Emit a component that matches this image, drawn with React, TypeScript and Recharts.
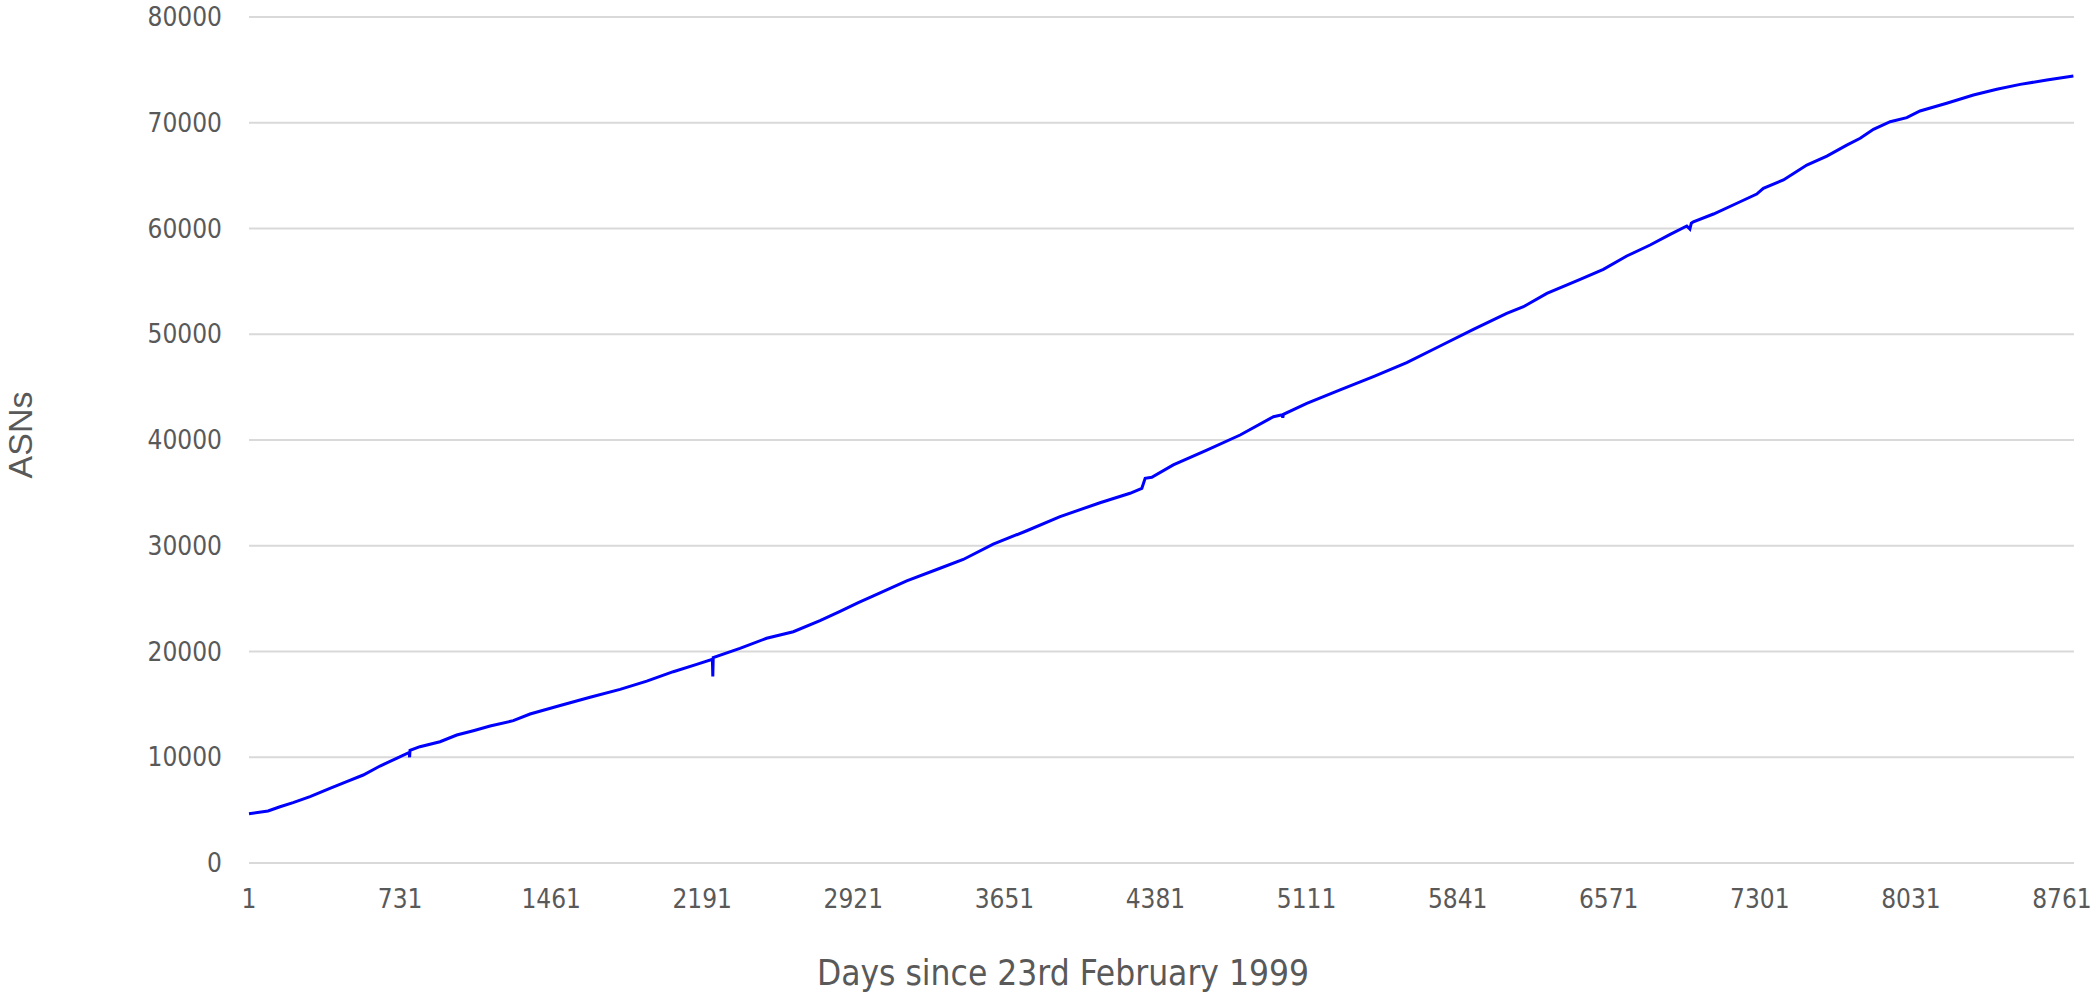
import { LineChart, Line, XAxis, YAxis, CartesianGrid } from 'recharts';

// days since 23 Feb 1999 and the ASN count
const days = [
  1, 93, 151, 214, 296, 392, 473, 553, 634, 714, 775, 777, 779, 827, 924, 1005, 1085, 1166, 1278, 1359,
  1496, 1649, 1794, 1923, 2051, 2164, 2240, 2242, 2244, 2373, 2502, 2631, 2760, 2857, 2945, 3018, 3179,
  3340, 3452, 3597, 3759, 3920, 4113, 4258, 4315, 4331, 4363, 4467, 4629, 4790, 4951, 4993, 4996, 4999,
  5112, 5273, 5434, 5595, 5756, 5917, 6078, 6159, 6272, 6433, 6545, 6658, 6771, 6868, 6948, 6963, 6970,
  6980, 7077, 7206, 7286, 7318, 7415, 7528, 7625, 7721, 7786, 7850, 7931, 8011, 8075, 8204, 8333, 8446,
  8559, 8688, 8816,
];
const asns = [
  4650, 4920, 5320, 5710, 6270, 7060, 7690, 8320, 9170, 9900, 10450, 10000, 10650, 11000, 11470, 12100,
  12510, 12950, 13460, 14090, 14850, 15670, 16420, 17200, 18090, 18780, 19260, 17650, 19420, 20300, 21250,
  21870, 22910, 23800, 24620, 25250, 26670, 27870, 28700, 30160, 31420, 32750, 34070, 34960, 35430, 36380,
  36470, 37640, 39050, 40470, 42200, 42380, 42100, 42430, 43470, 44730, 45990, 47310, 48890, 50460, 51980,
  52600, 53870, 55190, 56140, 57400, 58440, 59450, 60240, 59950, 60500, 60640, 61370, 62530, 63260, 63800,
  64590, 66000, 66850, 67890, 68530, 69380, 70100, 70480, 71110, 71840, 72620, 73160, 73630, 74040, 74420,
];
const xTicks = [1, 731, 1461, 2191, 2921, 3651, 4381, 5111, 5841, 6571, 7301, 8031, 8761];
const yTicks = [0, 10000, 20000, 30000, 40000, 50000, 60000, 70000, 80000];

const data = days.map((d, i) => ({ day: d, asns: asns[i] }));

const TEXT = '#595959';
const tickFont = {
  fontSize: 26,
  fill: TEXT,
  fontFamily: "'DejaVu Sans Condensed', 'DejaVu Sans', sans-serif",
  fontStretch: 'condensed',
};

function XTitle() {
  return (
    <text
      x={1063}
      y={985}
      textAnchor="middle"
      fill={TEXT}
      fontSize={35}
      fontFamily="'DejaVu Sans Condensed', 'DejaVu Sans', sans-serif"
      style={{ fontStretch: 'condensed' }}
    >
      Days since 23rd February 1999
    </text>
  );
}

function YTitle() {
  return (
    <text
      x={20}
      y={435}
      transform="rotate(-90, 20, 435)"
      textAnchor="middle"
      dominantBaseline="central"
      fill={TEXT}
      fontSize={34}
      fontFamily="'Liberation Sans', Arial, sans-serif"
    >
      ASNs
    </text>
  );
}

export default function App() {
  return (
    <div style={{ position: 'absolute', left: 0, top: 0, width: 2096, height: 997, background: '#fff' }}>
      <LineChart width={2096} height={997} data={data} margin={{ top: 17, right: 22, bottom: 0, left: 0 }}>
        <CartesianGrid vertical={false} stroke="#d9d9d9" strokeWidth={2} />
        <XAxis
          dataKey="day"
          type="number"
          domain={[1, 8819]}
          ticks={xTicks}
          interval={0}
          height={134}
          axisLine={false}
          tickLine={false}
          tickSize={0}
          tickMargin={27}
          tick={tickFont}
          label={<XTitle />}
        />
        <YAxis
          type="number"
          domain={[0, 80000]}
          ticks={yTicks}
          interval={0}
          width={249}
          axisLine={false}
          tickLine={false}
          tickSize={0}
          tickMargin={27}
          tick={tickFont}
          label={<YTitle />}
        />
        <Line
          type="linear"
          dataKey="asns"
          stroke="#0000ff"
          strokeWidth={3}
          dot={false}
          activeDot={false}
          isAnimationActive={false}
        />
      </LineChart>
    </div>
  );
}
